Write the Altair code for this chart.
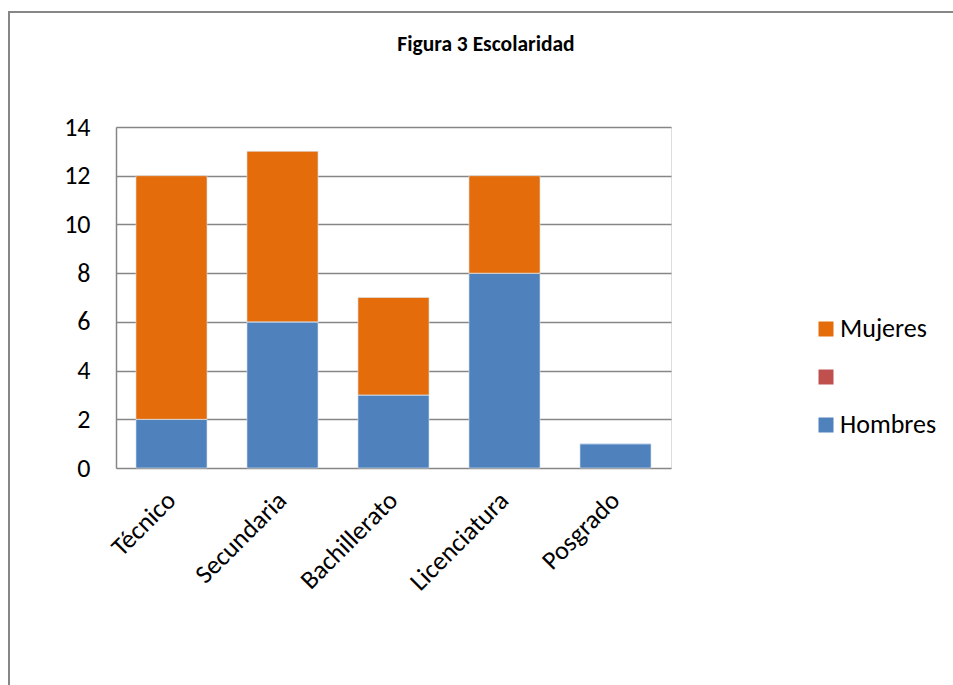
import altair as alt
import pandas as pd

# Escolaridad por sexo
categorias = ["Técnico", "Secundaria", "Bachillerato", "Licenciatura", "Posgrado"]
hombres = [2, 6, 3, 8, 1]
mujeres = [10, 7, 4, 4, 0]
serie_sin_nombre = [0, 0, 0, 0, 0]

series = ["Mujeres", "Serie2", "Hombres"]
colores = ["#E46C0A", "#C0504D", "#4F81BD"]
orden_pila = {"Hombres": 0, "Serie2": 1, "Mujeres": 2}

rows = []
for i, c in enumerate(categorias):
    for s, vals in (("Hombres", hombres), ("Serie2", serie_sin_nombre), ("Mujeres", mujeres)):
        rows.append({"categoria": c, "serie": s, "valor": vals[i], "orden": orden_pila[s]})
df = pd.DataFrame(rows)

FONT = "Carlito, Lato, sans-serif"
W, H = 555, 341
LEFT, TOP = 116, 127

bars = alt.Chart(df).mark_bar(stroke="#DCE6F2", strokeWidth=0.6).encode(
    x=alt.X("categoria:N", sort=categorias, title=None,
            scale=alt.Scale(paddingInner=0.36, paddingOuter=0.18),
            axis=alt.Axis(labelAngle=-45, labelFontSize=26, labelFont=FONT,
                          labelColor="#000000", ticks=False, domain=False,
                          labelPadding=28, labelAlign="right", labelBaseline="middle")),
    y=alt.Y("valor:Q", stack="zero", title=None,
            scale=alt.Scale(domain=[0, 14]),
            axis=alt.Axis(values=[0, 2, 4, 6, 8, 10, 12, 14], grid=True,
                          gridColor="#868686", gridWidth=1.5,
                          domainColor="#868686", domainWidth=1.5,
                          ticks=False, labelFontSize=26, labelFont=FONT,
                          labelColor="#000000", labelPadding=26)),
    color=alt.Color("serie:N", scale=alt.Scale(domain=series, range=colores),
                    legend=alt.Legend(title=None, orient="none", legendX=697, legendY=189,
                                      symbolType="square", symbolSize=225,
                                      symbolStrokeWidth=0, labelFontSize=26,
                                      labelFont=FONT, labelColor="#000000",
                                      rowPadding=22, labelOffset=1, padding=0,
                                      labelExpr="datum.label == 'Serie2' ? '' : datum.label")),
    order=alt.Order("orden:Q"),
)

titulo = alt.Chart(pd.DataFrame({"t": ["Figura 3 Escolaridad"]})).mark_text(
    fontSize=21.5, fontWeight="bold", font=FONT, color="#000000", baseline="alphabetic"
).encode(x=alt.value(370), y=alt.value(51 - TOP), text="t:N")

marco = alt.Chart(pd.DataFrame({"k": [0]})).mark_rect(
    fill=None, stroke="#868686", strokeWidth=2, clip=False
).encode(x=alt.value(9 - LEFT), x2=alt.value(1000), y=alt.value(12 - TOP), y2=alt.value(700))

chart = alt.layer(marco, bars, titulo).properties(
    width=W, height=H,
    autosize=alt.AutoSizeParams(type="none"),
    padding={"left": LEFT, "top": TOP, "right": 953 - LEFT - W, "bottom": 685 - TOP - H},
).configure_view(stroke=None).configure(background="#FFFFFF")

chart.save("out.html", embed_options={"renderer": "svg", "actions": False})
